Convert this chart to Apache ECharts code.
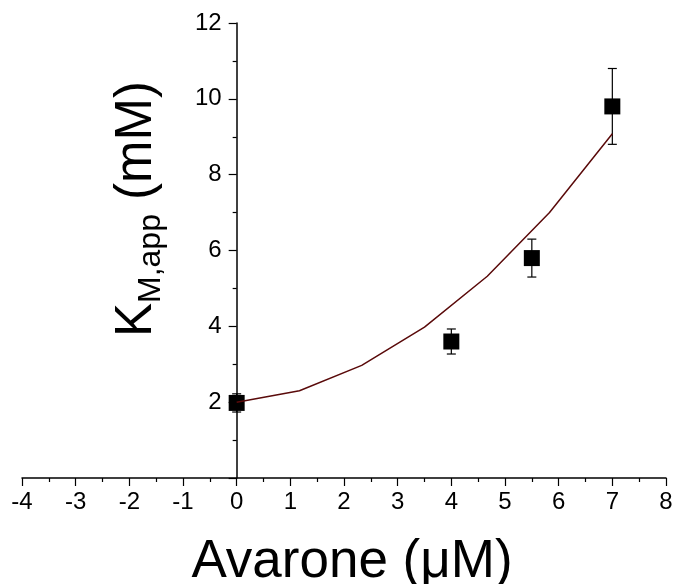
<!DOCTYPE html>
<html>
<head>
<meta charset="utf-8">
<script src="https://cdn.jsdelivr.net/npm/echarts@6/dist/echarts.min.js"></script>
<style>html,body{margin:0;padding:0;background:#fff}#c{width:678px;height:584px}</style>
</head>
<body>
<div id="c"></div>
<script>
// Measured points
const avaroneX = [0, 4, 5.5, 7];
const kmApp = [1.98, 3.6, 5.8, 9.8];
const kmErr = [0.24, 0.33, 0.5, 1.0];
// Fitted curve
const fitX = [0, 1.17, 2.33, 3.5, 4.67, 5.83, 7];
const fitY = [2.0, 2.3, 2.97, 3.98, 5.32, 7.0, 9.08];
// Axis ticks
const xMin = -4, xMax = 8, xStep = 1;
const yMin = 0, yMax = 12, yStep = 2;

const FONT = '"Liberation Sans", Arial, sans-serif';
const W = 678;
const GRID = {left: 22, right: 12, top: 23, bottom: 106};
const gridW = W - GRID.left - GRID.right;
// place the y axis where x = 0
const yAxisOffset = -((0 - xMin) / (xMax - xMin)) * gridW;

const chart = echarts.init(document.getElementById('c'), null, {renderer: 'canvas'});

const scatterData = avaroneX.map((x, i) => [x, kmApp[i]]);
const errData = avaroneX.map((x, i) => [x, kmApp[i] - kmErr[i], kmApp[i] + kmErr[i]]);
const fitData = fitX.map((x, i) => [x, fitY[i]]);

chart.setOption({
  animation: false,
  backgroundColor: '#fff',
  grid: Object.assign({containLabel: false, outerBoundsMode: 'none'}, GRID),
  xAxis: {
    type: 'value', min: xMin, max: xMax, interval: xStep,
    axisLine: {onZero: false, lineStyle: {color: '#000', width: 1.5}},
    axisTick: {length: 8, lineStyle: {color: '#000', width: 1.2}},
    minorTick: {show: true, splitNumber: 2, length: 4, lineStyle: {color: '#000', width: 1.2}},
    splitLine: {show: false},
    axisLabel: {color: '#000', fontSize: 24, fontFamily: FONT, margin: 12}
  },
  yAxis: {
    type: 'value', min: yMin, max: yMax, interval: yStep,
    position: 'left', offset: yAxisOffset,
    axisLine: {onZero: false, lineStyle: {color: '#000', width: 1.5}},
    axisTick: {length: 8, lineStyle: {color: '#000', width: 1.2}},
    minorTick: {show: true, splitNumber: 2, length: 4, lineStyle: {color: '#000', width: 1.2}},
    splitLine: {show: false},
    axisLabel: {color: '#000', fontSize: 24, fontFamily: FONT, margin: 15,
      formatter: v => (v === 0 ? '' : String(v))}
  },
  graphic: [
    {
      type: 'text', x: 352, y: 562,
      style: {text: 'Avarone (\u03bcM)', font: '53px ' + FONT, fill: '#000',
        textAlign: 'center', textVerticalAlign: 'middle'}
    },
    {
      type: 'text', x: 137, y: 209,
      rotation: Math.PI / 2,
      style: {
        text: '{k|K}{s|M,app}{k| (mM)}',
        textAlign: 'center', textVerticalAlign: 'middle',
        rich: {
          k: {fontSize: 51, fontFamily: FONT, fill: '#000', lineHeight: 60},
          s: {fontSize: 32, fontFamily: FONT, fill: '#000', lineHeight: 24, verticalAlign: 'bottom'}
        }
      }
    }
  ],
  series: [
    {
      type: 'custom', z: 1,
      renderItem: function (params, api) {
        const x = api.value(0);
        const lo = api.coord([x, api.value(1)]);
        const hi = api.coord([x, api.value(2)]);
        const hw = 4.5;
        const st = {stroke: '#000', lineWidth: 1.2};
        return {type: 'group', children: [
          {type: 'line', shape: {x1: lo[0], y1: lo[1], x2: hi[0], y2: hi[1]}, style: st},
          {type: 'line', shape: {x1: lo[0] - hw, y1: lo[1], x2: lo[0] + hw, y2: lo[1]}, style: st},
          {type: 'line', shape: {x1: hi[0] - hw, y1: hi[1], x2: hi[0] + hw, y2: hi[1]}, style: st}
        ]};
      },
      encode: {x: 0, y: [1, 2]},
      data: errData
    },
    {
      type: 'scatter', z: 2, symbol: 'rect', symbolSize: 16,
      itemStyle: {color: '#000', opacity: 1},
      data: scatterData
    },
    {
      type: 'line', z: 3, symbol: 'none', smooth: false,
      lineStyle: {color: '#5a0a0a', width: 1.5},
      data: fitData
    }
  ]
});
</script>
</body>
</html>
